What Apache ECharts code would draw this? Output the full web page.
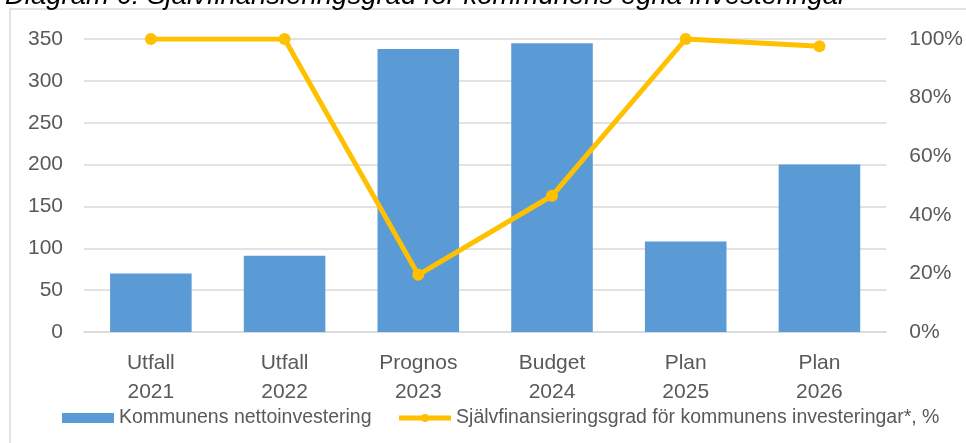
<!DOCTYPE html>
<html>
<head>
<meta charset="utf-8">
<script src="https://cdn.jsdelivr.net/npm/echarts@6/dist/echarts.min.js"></script>
<style>
  html, body { margin: 0; padding: 0; background: #fff; }
  #chart { width: 966px; height: 443px; }
</style>
</head>
<body>
<div id="chart"></div>
<script>
// kategorier och värden
var categories = ['Utfall\n2021', 'Utfall\n2022', 'Prognos\n2023', 'Budget\n2024', 'Plan\n2025', 'Plan\n2026']
var nettoinvestering = [70, 91, 338, 345, 108, 200] // mnkr
var sjalvfinansiering = [100, 100, 19.5, 46.5, 100, 97.5] // %

var titleText = 'Diagram 6: Självfinansieringsgrad för kommunens egna investeringar'
var barName = 'Kommunens nettoinvestering'
var lineName = 'Självfinansieringsgrad för kommunens investeringar*, %'

var font = 'Liberation Sans, Arial, sans-serif'
var labelColor = '#595959'
var gridColor = '#d9d9d9'

var myChart = echarts.init(document.getElementById('chart'))

var option = {
  animation: false,
  color: ['#5B9BD5', '#FFC000'],
  textStyle: { fontFamily: font },
  graphic: [
    { // ram runt diagrammet
      type: 'rect',
      shape: { x: 10, y: 9, width: 1000, height: 1000 },
      style: { fill: 'none', stroke: gridColor, lineWidth: 1.5 }
    },
    { // rubrik, avklippt upptill som i originalet
      type: 'text',
      x: 5,
      y: -4,
      style: {
        text: titleText,
        font: 'italic 27.5px Liberation Sans, Arial, sans-serif',
        fill: '#000',
        verticalAlign: 'middle'
      }
    }
  ],
  grid: {
    left: 84,
    right: 76,
    top: 39,
    bottom: 111
  },
  legend: {
    left: 57,
    top: 403,
    itemWidth: 52,
    itemHeight: 10,
    itemGap: 25,
    textStyle: { fontSize: 19.5, color: labelColor, fontFamily: font },
    data: [
      { name: barName, icon: 'rect' },
      { name: lineName, lineStyle: { width: 5 }, itemStyle: { color: '#FFC000' } }
    ]
  },
  xAxis: {
    type: 'category',
    data: categories,
    axisLine: { show: true, lineStyle: { color: gridColor, width: 1.5 } },
    axisTick: { show: false },
    axisLabel: {
      color: labelColor,
      fontSize: 21,
      lineHeight: 29,
      margin: 17
    }
  },
  yAxis: [
    {
      type: 'value',
      min: 0,
      max: 350,
      interval: 50,
      axisLine: { show: false },
      axisTick: { show: false },
      axisLabel: { color: labelColor, fontSize: 21, margin: 21 },
      splitLine: { show: true, lineStyle: { color: gridColor, width: 1.5 } }
    },
    {
      type: 'value',
      min: 0,
      max: 100,
      interval: 20,
      axisLine: { show: false },
      axisTick: { show: false },
      axisLabel: { color: labelColor, fontSize: 21, margin: 23, formatter: '{value}%' },
      splitLine: { show: false }
    }
  ],
  series: [
    {
      name: barName,
      type: 'bar',
      data: nettoinvestering,
      barCategoryGap: '39%',
      itemStyle: { color: '#5B9BD5' }
    },
    {
      name: lineName,
      type: 'line',
      yAxisIndex: 1,
      data: sjalvfinansiering,
      symbol: 'circle',
      symbolSize: 12,
      lineStyle: { width: 5, color: '#FFC000' },
      itemStyle: { color: '#FFC000' }
    }
  ]
}
myChart.setOption(option)
</script>
</body>
</html>
